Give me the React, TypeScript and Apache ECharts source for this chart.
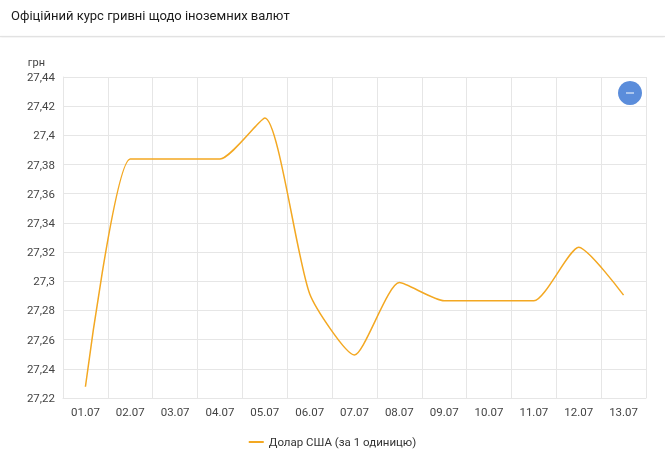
import React, { useEffect, useRef } from "react";
import * as echarts from "echarts";

const categories = ["01.07", "02.07", "03.07", "04.07", "05.07", "06.07", "07.07", "08.07", "09.07", "10.07", "11.07", "12.07", "13.07"];
const usdValues = [27.2277, 27.3838, 27.3838, 27.3838, 27.4119, 27.2915, 27.2495, 27.2991, 27.2866, 27.2866, 27.2866, 27.3234, 27.2905];
const seriesName = "Долар США (за 1 одиницю)";
const title = "Офіційний курс гривні щодо іноземних валют";

export default function App() {
  const ref = useRef<HTMLDivElement>(null);
  useEffect(() => {
    if (!ref.current) return;
    const chart = echarts.init(ref.current, undefined, { renderer: "svg" });
    chart.setOption({
      animation: false,
      textStyle: { fontFamily: "Roboto" },
      title: {
        text: title,
        left: 6,
        top: 4,
        textStyle: { fontSize: 13, fontWeight: "normal", color: "#1a1a1a", fontFamily: "Roboto" },
      },
      graphic: [
        { type: "rect", shape: { x: 0, y: 36, width: 665, height: 1 }, style: { fill: "#e2e2e2", shadowBlur: 3, shadowColor: "rgba(0,0,0,0.15)", shadowOffsetY: 1 } },
        { type: "circle", shape: { cx: 630, cy: 93, r: 12 }, style: { fill: "#5b8ddb" } },
        { type: "rect", shape: { x: 626, y: 92.5, width: 8, height: 1 }, style: { fill: "#ffffff" } },
      ],
      legend: {
        top: 431,
        left: "center",
        itemWidth: 15,
        itemHeight: 2,
        itemGap: 10,
        icon: "rect",
        textStyle: { fontSize: 11.5, color: "#333", fontFamily: "Roboto" },
        data: [seriesName],
      },
      grid: { left: 63, right: 19, top: 77, bottom: 54 },
      xAxis: {
        type: "category",
        data: categories,
        boundaryGap: true,
        axisLine: { show: true, lineStyle: { color: "#e6e6e6" } },
        axisTick: { show: false },
        splitLine: { show: true, lineStyle: { color: "#e6e6e6" } },
        axisLabel: { color: "#444", fontSize: 11.5, margin: 8 },
      },
      yAxis: {
        type: "value",
        name: "грн",
        nameLocation: "end",
        nameGap: 9,
        nameTextStyle: { color: "#444", fontSize: 11, align: "right", padding: [0, 18, 0, 0] },
        min: 27.22,
        max: 27.44,
        interval: 0.02,
        axisLine: { show: true, lineStyle: { color: "#e6e6e6" } },
        axisTick: { show: false },
        splitLine: { show: true, lineStyle: { color: "#e6e6e6" } },
        axisLabel: {
          color: "#444",
          fontSize: 11.5,
          margin: 8,
          formatter: (v: number) => String(Math.round(v * 100) / 100).replace(".", ","),
        },
      },
      series: [
        {
          name: seriesName,
          type: "line",
          data: usdValues,
          smooth: 0.2,
          showSymbol: false,
          symbol: "none",
          lineStyle: { color: "#f3a822", width: 1.5 },
          itemStyle: { color: "#f3a822" },
        },
      ],
    });
    return () => chart.dispose();
  }, []);
  return <div ref={ref} style={{ position: "fixed", left: 0, top: 0, width: 665, height: 452 }} />;
}
